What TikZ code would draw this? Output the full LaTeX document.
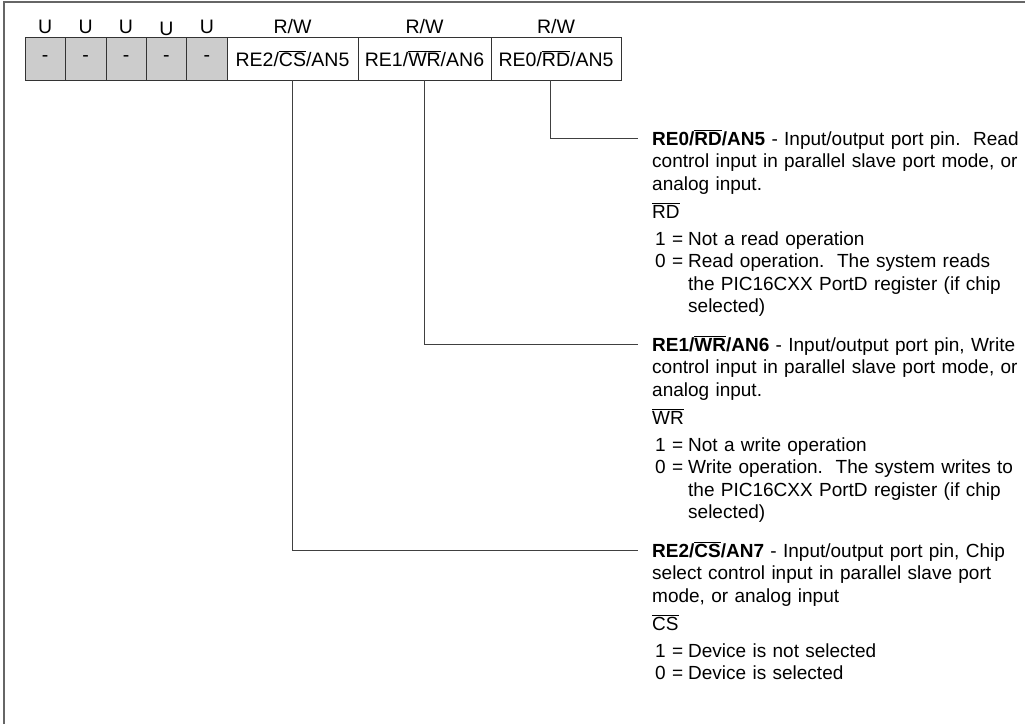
\documentclass[tikz,border=0pt]{standalone}
\usepackage{fontspec}
\setmainfont{Liberation Sans}
\usetikzlibrary{positioning}

\newcommand{\ovl}[1]{$\overline{\hbox{#1}}$}
\newcommand{\jline}[1]{\makebox[\linewidth][s]{#1}}
\newcommand{\val}[1]{\makebox[33pt][l]{#1 =}}
\newcommand{\cont}{\hspace*{33pt}}

\begin{document}
\begin{tikzpicture}
    [x=1pt,y=-1pt,inner sep=0pt,
    every node/.style={font=\fontsize{19.5}{22.5}\selectfont},
    unimpl/.style={rectangle,draw=black!80,fill=black!20,minimum width=40.4pt,minimum height=43pt},
    bitcell/.style={rectangle,draw=black!80,fill=white,minimum height=43pt},
    access/.style={anchor=base},
    desc/.style={anchor=base west,align=left,text width=360pt,font=\fontsize{19}{22.5}\selectfont},
    pin/.style={draw=black!75,line width=1pt}]
    \useasboundingbox (0,0) rectangle (1025,724);
    \draw[black!60,line width=2pt] (4,724) -- (4,1.5) -- (1025,1.5);

    % register bits
    \foreach \i in {1,...,5}
        \node[unimpl] (u\i) at ({25+40.4*(\i-0.5)},58.5) {-};
    \node[bitcell,minimum width=131pt] (re2) at (292.5,58.5) {RE2/\ovl{CS}/AN5};
    \node[bitcell,minimum width=133pt] (re1) at (424.5,58.5) {RE1/\ovl{WR}/AN6};
    \node[bitcell,minimum width=130pt] (re0) at (556,58.5) {RE0/\ovl{RD}/AN5};

    % access labels
    \foreach \i in {1,2,3,5}
        \node[access] (lu\i) at ([yshift=3.5pt]u\i.north) {U};
    \node[access] (lu4) at ([yshift=1pt]u4.north) {U};
    \foreach \b in {re2,re1,re0}
        \node[access] (l\b) at ([yshift=3.5pt]\b.north) {R/W};

    % pin descriptions
    \coordinate (re0pin) at (638,138);
    \coordinate (re1pin) at (638,344);
    \coordinate (re2pin) at (638,550);

    \node[desc] (re0head) at ([xshift=14pt,yshift=-7pt]re0pin)
        {\jline{\textbf{RE0/\ovl{RD}/AN5} - Input/output port pin.\ \ Read}\\
         \jline{control input in parallel slave port mode, or}\\
         analog input.};
    \node[desc] (re0sig) at ([yshift=-73pt]re0head.base west) {\ovl{RD}};
    \node[desc] (re0val) at ([xshift=3pt,yshift=-27pt]re0sig.base west)
        {\val{1}Not a read operation\\
         \val{0}Read operation.\ \ The system reads\\
         \cont the PIC16CXX PortD register (if chip\\
         \cont selected)};

    \node[desc] (re1head) at ([xshift=14pt,yshift=-7pt]re1pin)
        {\jline{\textbf{RE1/\ovl{WR}/AN6} - Input/output port pin, Write}\\
         \jline{control input in parallel slave port mode, or}\\
         analog input.};
    \node[desc] (re1sig) at ([yshift=-73pt]re1head.base west) {\ovl{WR}};
    \node[desc] (re1val) at ([xshift=3pt,yshift=-27pt]re1sig.base west)
        {\val{1}Not a write operation\\
         \val{0}Write operation.\ \ The system writes to\\
         \cont the PIC16CXX PortD register (if chip\\
         \cont selected)};

    \node[desc] (re2head) at ([xshift=14pt,yshift=-7pt]re2pin)
        {\jline{\textbf{RE2/\ovl{CS}/AN7} - Input/output port pin, Chip}\\
         \jline{select control input in parallel slave port}\\
         mode, or analog input};
    \node[desc] (re2sig) at ([yshift=-73pt]re2head.base west) {\ovl{CS}};
    \node[desc] (re2val) at ([xshift=3pt,yshift=-27pt]re2sig.base west)
        {\val{1}Device is not selected\\
         \val{0}Device is selected};

    % connectors
    \draw[pin] (re0.south -| re0pin.west) ++(-88,0) |- (re0pin);
    \draw[pin] (re1.south) |- (re1pin);
    \draw[pin] (re2.south) |- (re2pin);
\end{tikzpicture}
\end{document}
